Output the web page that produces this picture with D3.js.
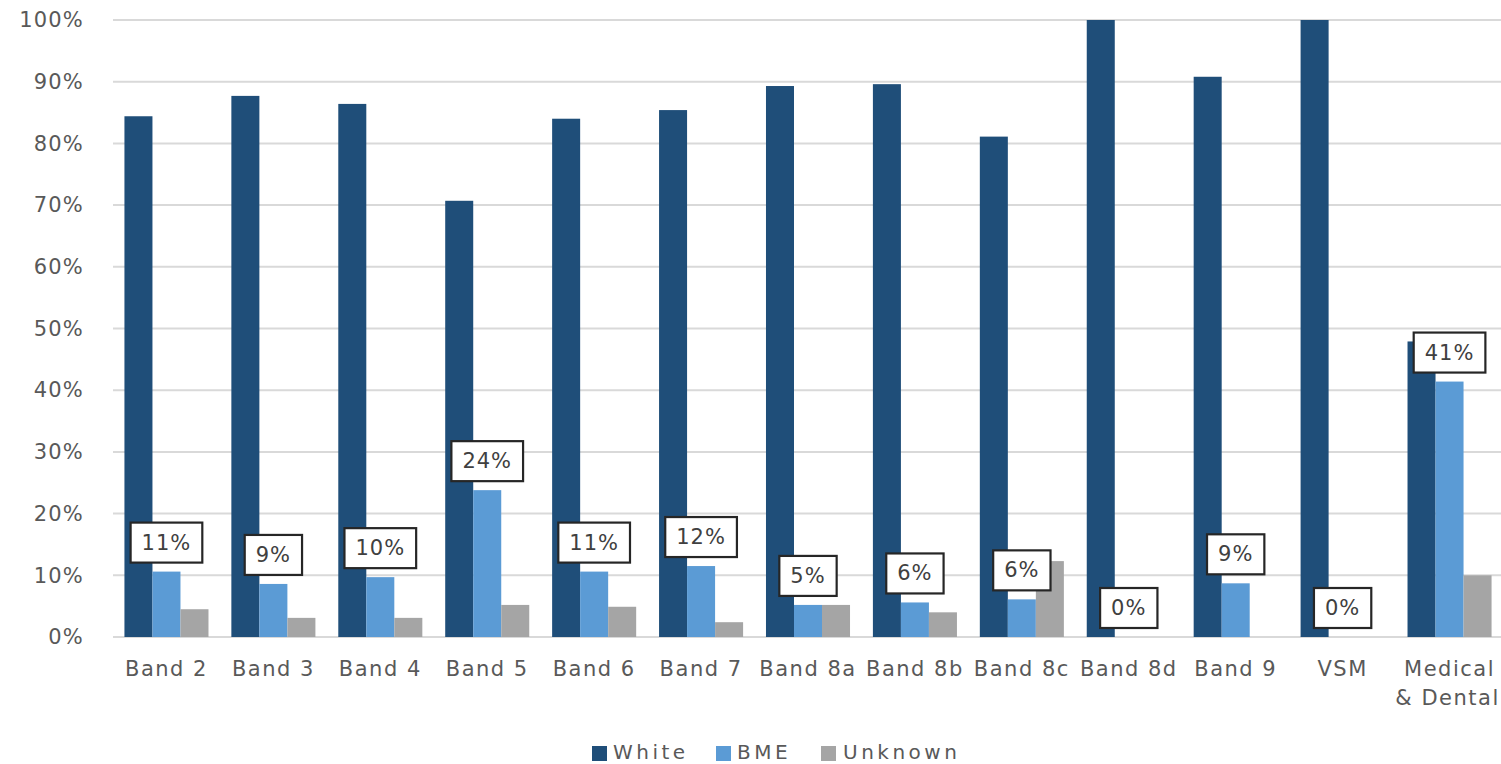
<!DOCTYPE html>
<html>
<head>
<meta charset="utf-8">
<script src="https://cdn.jsdelivr.net/npm/d3@7/dist/d3.min.js"></script>
<style>
  html, body { margin: 0; padding: 0; background: #fff; }
  svg { display: block; font-family: "DejaVu Sans", Verdana, sans-serif; }
</style>
</head>
<body>
<svg id="chart" width="1501" height="764"></svg>
<script>
// Staff by pay band, share of each ethnicity group
const categories = ["Band 2", "Band 3", "Band 4", "Band 5", "Band 6", "Band 7", "Band 8a", "Band 8b", "Band 8c", "Band 8d", "Band 9", "VSM", "Medical & Dental"];
const seriesNames = ["White", "BME", "Unknown"];
const whiteValues   = [84.4, 87.7, 86.4, 70.7, 84.0, 85.4, 89.3, 89.6, 81.1, 100, 90.8, 100, 47.9];
const bmeValues     = [10.6, 8.6, 9.7, 23.8, 10.6, 11.5, 5.2, 5.6, 6.1, 0, 8.7, 0, 41.4];
const unknownValues = [4.5, 3.1, 3.1, 5.2, 4.9, 2.4, 5.2, 4.0, 12.3, 0, 0, 0, 10.0];
const bmeLabels = ["11%", "9%", "10%", "24%", "11%", "12%", "5%", "6%", "6%", "0%", "9%", "0%", "41%"];
const yTicks = [0, 10, 20, 30, 40, 50, 60, 70, 80, 90, 100];
const colors = ["#1F4E79", "#5B9BD5", "#A5A5A5"];

const seriesValues = [whiteValues, bmeValues, unknownValues];
const rows = categories.map((c, i) => ({
  category: c,
  values: seriesNames.map((s, j) => ({ series: s, value: seriesValues[j][i] }))
}));

const svg = d3.select("#chart");
const plotLeft = 113, plotRight = 1503, plotTop = 20, plotBottom = 637;
const textColor = "#595959";
const fontSize = 21;

const x = d3.scaleBand().domain(categories).range([plotLeft, plotRight])
  .paddingInner(0.214).paddingOuter(0.107);
const xs = d3.scaleBand().domain(seriesNames).range([0, x.bandwidth()]);
const y = d3.scaleLinear().domain([0, 100]).range([plotBottom, plotTop]);
const color = d3.scaleOrdinal().domain(seriesNames).range(colors);

// gridlines
svg.append("g").selectAll("line").data(yTicks).join("line")
  .attr("x1", plotLeft).attr("x2", 1501)
  .attr("y1", d => y(d)).attr("y2", d => y(d))
  .attr("stroke", "#D9D9D9").attr("stroke-width", 2);

// y axis labels
const yAxis = svg.append("g").attr("transform", `translate(${plotLeft},0)`)
  .call(d3.axisLeft(y).tickValues(yTicks).tickFormat(d => d + "%").tickSize(0).tickPadding(29));
yAxis.select(".domain").remove();
yAxis.selectAll("text")
  .attr("fill", textColor).attr("font-size", fontSize)
  .style("font-family", "DejaVu Sans, Verdana, sans-serif")
  .attr("letter-spacing", 1.2);

// bars
const groups = svg.append("g").selectAll("g").data(rows).join("g")
  .attr("transform", d => `translate(${x(d.category)},0)`);
groups.selectAll("rect").data(d => d.values).join("rect")
  .attr("x", d => xs(d.series))
  .attr("width", xs.bandwidth())
  .attr("y", d => y(d.value))
  .attr("height", d => y(0) - y(d.value))
  .attr("fill", d => color(d.series));

// x axis labels
const xAxis = svg.append("g").attr("transform", `translate(0,${plotBottom})`)
  .call(d3.axisBottom(x).tickSize(0).tickPadding(24));
xAxis.select(".domain").remove();
xAxis.selectAll("text")
  .attr("fill", textColor).attr("font-size", fontSize)
  .style("font-family", "DejaVu Sans, Verdana, sans-serif")
  .attr("letter-spacing", 1.5)
  .each(function(d) {
    if (d === "Medical & Dental") {
      const t = d3.select(this);
      t.text(null);
      t.append("tspan").attr("x", 0).attr("dy", "0.71em").text("Medical");
      t.append("tspan").attr("x", -2).attr("dy", "1.38em").text("& Dental");
      t.attr("dy", null);
    }
  });

// BME data labels in boxes
const labelG = svg.append("g");
rows.forEach((r, i) => {
  const cx = x(r.category) + xs("BME") + xs.bandwidth() / 2;
  const barTop = y(bmeValues[i]);
  const g = labelG.append("g");
  const t = g.append("text")
    .attr("x", cx).attr("y", barTop - 29)
    .attr("text-anchor", "middle").attr("dominant-baseline", "central")
    .attr("fill", "#404040").attr("font-size", fontSize).attr("letter-spacing", 1)
    .text(bmeLabels[i]);
  const w = t.node().getComputedTextLength() + 22;
  g.insert("rect", "text")
    .attr("x", cx - w / 2).attr("y", barTop - 49)
    .attr("width", w).attr("height", 40)
    .attr("fill", "#fff").attr("stroke", "#262626").attr("stroke-width", 2.2);
});

// legend
const legendItems = [
  { name: "White", x: 592, tx: 613 },
  { name: "BME", x: 716, tx: 737 },
  { name: "Unknown", x: 821, tx: 843 }
];
const lg = svg.append("g");
legendItems.forEach((d, i) => {
  lg.append("rect").attr("x", d.x).attr("y", 746).attr("width", 15).attr("height", 15)
    .attr("fill", colors[i]);
  lg.append("text").attr("x", d.tx).attr("y", 752)
    .attr("dominant-baseline", "central")
    .attr("fill", textColor).attr("font-size", 20).attr("letter-spacing", 3.5)
    .text(d.name);
});
</script>
</body>
</html>
